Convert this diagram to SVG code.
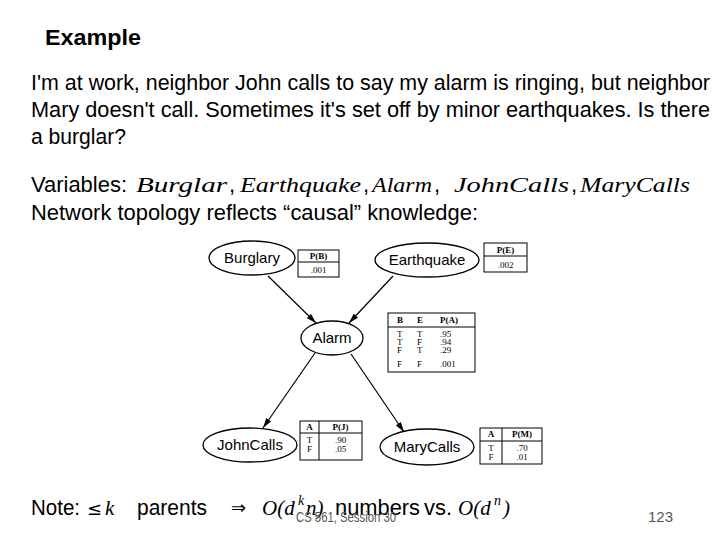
<svg xmlns="http://www.w3.org/2000/svg" width="720" height="540" viewBox="0 0 720 540">
<defs>
<style>
.t{font-family:"Liberation Sans",Arial,sans-serif;font-size:22px;fill:#000}
.m{font-family:"Liberation Serif","Times New Roman",serif;font-style:italic;font-size:21px;fill:#000}
.node ellipse{fill:#fff;stroke:#000;stroke-width:1.3}
.node text.lbl{font-family:"Liberation Sans",Arial,sans-serif;font-size:15px;text-anchor:middle;fill:#000}
.tab rect{fill:#fff;stroke:#000;stroke-width:1}
.tab line{stroke:#000;stroke-width:1}
.tab text{font-family:"Liberation Serif","Times New Roman",serif;font-size:9px;fill:#000}
.tab text.h{font-weight:bold}
.edge{stroke:#000;stroke-width:1.2;fill:none;marker-end:url(#arr)}
.foot{font-family:"Liberation Sans",Arial,sans-serif;font-size:15px;fill:#555}
</style>
<marker id="arr" viewBox="0 0 10 6" refX="10" refY="3" markerWidth="10" markerHeight="6" markerUnits="userSpaceOnUse" orient="auto">
<path d="M0,0 L10,3 L0,6 Z" fill="#000"/>
</marker>
</defs>
<rect width="720" height="540" fill="#fff"/>

<text x="45" y="45" textLength="96" lengthAdjust="spacingAndGlyphs" style="font-family:'Liberation Sans',Arial,sans-serif;font-size:22px;font-weight:bold">Example</text>

<text class="t" x="31" y="90" textLength="679" lengthAdjust="spacingAndGlyphs">I'm at work, neighbor John calls to say my alarm is ringing, but neighbor</text>
<text class="t" x="31" y="117" textLength="679" lengthAdjust="spacingAndGlyphs">Mary doesn't call.  Sometimes it's set off by minor earthquakes.  Is there</text>
<text class="t" x="31" y="144" textLength="95" lengthAdjust="spacingAndGlyphs">a burglar?</text>

<text class="t" x="31" y="192" textLength="96" lengthAdjust="spacingAndGlyphs">Variables:</text>
<text class="m" y="192"><tspan x="136" textLength="91" lengthAdjust="spacingAndGlyphs">Burglar</tspan></text>
<text class="t" x="229" y="192">,</text>
<text class="m" y="192"><tspan x="240" textLength="121" lengthAdjust="spacingAndGlyphs">Earthquake</tspan></text>
<text class="t" x="363" y="192">,</text>
<text class="m" y="192"><tspan x="372" textLength="60" lengthAdjust="spacingAndGlyphs">Alarm</tspan></text>
<text class="t" x="434" y="192">,</text>
<text class="m" y="192"><tspan x="454" textLength="115" lengthAdjust="spacingAndGlyphs">JohnCalls</tspan></text>
<text class="t" x="571" y="192">,</text>
<text class="m" y="192"><tspan x="580" textLength="110" lengthAdjust="spacingAndGlyphs">MaryCalls</tspan></text>
<text class="t" x="31" y="220" textLength="447" lengthAdjust="spacingAndGlyphs">Network topology reflects “causal” knowledge:</text>

<g id="connectors">
<line class="edge" x1="268" y1="276" x2="316" y2="323"/>
<line class="edge" x1="393" y1="276" x2="349" y2="323"/>
<line class="edge" x1="315" y1="353" x2="263" y2="428"/>
<line class="edge" x1="351" y1="354" x2="404" y2="432"/>
</g>

<g id="burglary" class="node">
<ellipse cx="252" cy="258" rx="43" ry="17"/>
<text class="lbl" x="252" y="263">Burglary</text>
<g class="tab">
<rect x="298" y="250" width="41" height="27"/>
<line x1="298" y1="262" x2="339" y2="262" stroke-width="1.5"/>
<text x="318.5" y="259" text-anchor="middle" class="h">P(B)</text>
<text x="318.5" y="273" text-anchor="middle">.001</text>
</g>
</g>

<g id="earthquake" class="node">
<ellipse cx="427" cy="260" rx="52" ry="17"/>
<text class="lbl" x="427" y="265">Earthquake</text>
<g class="tab">
<rect x="484" y="243" width="43" height="29"/>
<line x1="484" y1="256" x2="527" y2="256" stroke-width="1.5"/>
<text x="505.5" y="253" text-anchor="middle" class="h">P(E)</text>
<text x="505.5" y="268" text-anchor="middle">.002</text>
</g>
</g>

<g id="alarm" class="node">
<ellipse cx="332" cy="338" rx="31" ry="17"/>
<text class="lbl" x="332" y="343">Alarm</text>
<g class="tab">
<rect x="388" y="313" width="87" height="59"/>
<line x1="388" y1="327" x2="475" y2="327" stroke-width="1.5"/>
<text x="397" y="323" class="h">B</text>
<text x="417" y="323" class="h">E</text>
<text x="440" y="323" class="h">P(A)</text>
<text x="397" y="337">T</text><text x="417" y="337">T</text><text x="440" y="337">.95</text>
<text x="397" y="345">T</text><text x="417" y="345">F</text><text x="440" y="345">.94</text>
<text x="397" y="353">F</text><text x="417" y="353">T</text><text x="440" y="353">.29</text>
<text x="397" y="367">F</text><text x="417" y="367">F</text><text x="440" y="367">.001</text>
</g>
</g>

<g id="johncalls" class="node">
<ellipse cx="250" cy="445" rx="47" ry="17"/>
<text class="lbl" x="250" y="450">JohnCalls</text>
<g class="tab">
<rect x="300" y="421" width="62" height="39"/>
<line x1="300" y1="433" x2="362" y2="433" stroke-width="1.5"/>
<line x1="319" y1="421" x2="319" y2="460"/>
<text x="309.5" y="430" text-anchor="middle" class="h">A</text>
<text x="340.5" y="430" text-anchor="middle" class="h">P(J)</text>
<text x="309.5" y="443" text-anchor="middle">T</text><text x="340.5" y="443" text-anchor="middle">.90</text>
<text x="309.5" y="452" text-anchor="middle">F</text><text x="340.5" y="452" text-anchor="middle">.05</text>
</g>
</g>

<g id="marycalls" class="node">
<ellipse cx="427" cy="447" rx="47" ry="18"/>
<text class="lbl" x="427" y="452">MaryCalls</text>
<g class="tab">
<rect x="480" y="428" width="62" height="36"/>
<line x1="480" y1="441" x2="542" y2="441" stroke-width="1.5"/>
<line x1="502" y1="428" x2="502" y2="464"/>
<text x="491" y="437" text-anchor="middle" class="h">A</text>
<text x="522" y="437" text-anchor="middle" class="h">P(M)</text>
<text x="491" y="451" text-anchor="middle">T</text><text x="522" y="451" text-anchor="middle">.70</text>
<text x="491" y="460" text-anchor="middle">F</text><text x="522" y="460" text-anchor="middle">.01</text>
</g>
</g>

<text class="t" x="31" y="515" textLength="49" lengthAdjust="spacingAndGlyphs">Note:</text>
<text x="87" y="515" style="font-family:'DejaVu Sans',sans-serif;font-size:18px">≤</text>
<text class="m" x="105" y="515">k</text>
<text class="t" x="137" y="515" textLength="70" lengthAdjust="spacingAndGlyphs">parents</text>
<text x="231" y="514" style="font-family:'DejaVu Sans',sans-serif;font-size:18px">⇒</text>
<text class="m" x="262" y="515">O(d</text>
<text class="m" x="298" y="505" style="font-size:14px">k</text>
<text class="m" x="306" y="515">n)</text>
<text class="t" x="335" y="515" textLength="85" lengthAdjust="spacingAndGlyphs">numbers</text>
<text class="t" x="424" y="515" textLength="28" lengthAdjust="spacingAndGlyphs">vs.</text>
<text class="m" x="458" y="515">O(d</text>
<text class="m" x="494" y="505" style="font-size:14px">n</text>
<text class="m" x="503" y="515">)</text>

<text class="foot" x="296" y="522" textLength="100" lengthAdjust="spacingAndGlyphs">CS 561,  Session 30</text>
<text class="foot" x="648" y="522">123</text>
</svg>
